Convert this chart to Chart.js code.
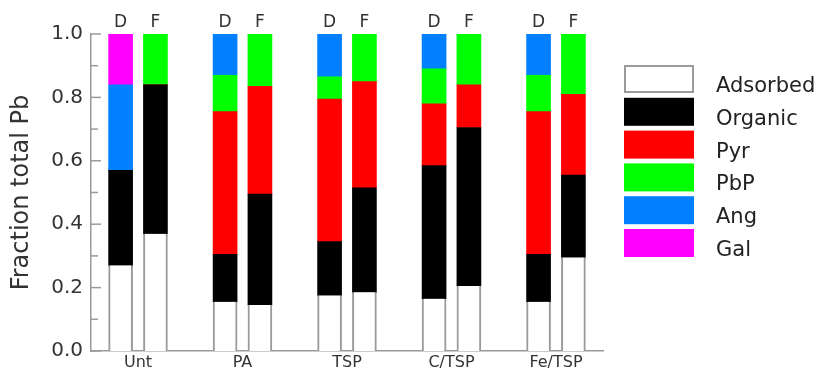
<!DOCTYPE html>
<html>
<head>
<meta charset="utf-8">
<script src="https://cdn.jsdelivr.net/npm/chart.js@4.4.0/dist/chart.umd.min.js"></script>
<style>
  html, body { margin: 0; padding: 0; background: #ffffff; }
  canvas { display: block; }
</style>
</head>
<body>
<canvas id="chart" width="820" height="373"></canvas>
<script>
// ---- data (fractions of total Pb), bar order: Unt D, Unt F, PA D, PA F, TSP D, TSP F, C/TSP D, C/TSP F, Fe/TSP D, Fe/TSP F
const groups = ['Unt', 'PA', 'TSP', 'C/TSP', 'Fe/TSP'];
const treatments = ['D', 'F'];
const seriesNames = ['Adsorbed', 'Organic', 'Pyr', 'PbP', 'Ang', 'Gal'];
const adsorbed = [0.27, 0.37, 0.155, 0.145, 0.175, 0.185, 0.165, 0.205, 0.155, 0.295];
const organic  = [0.30, 0.47, 0.15,  0.35,  0.17,  0.33,  0.42,  0.50,  0.15,  0.26];
const pyr      = [0,    0,    0.45,  0.34,  0.45,  0.335, 0.195, 0.135, 0.45,  0.255];
const pbp      = [0,    0.16, 0.115, 0.165, 0.07,  0.15,  0.11,  0.16,  0.115, 0.19];
const ang      = [0.27, 0,    0.13,  0,     0.135, 0,     0.11,  0,     0.13,  0];
const gal      = [0.16, 0,    0,     0,     0,     0,     0,     0,     0,     0];
const yTicks = [0, 0.2, 0.4, 0.6, 0.8, 1.0];

const seriesValues = [adsorbed, organic, pyr, pbp, ang, gal];
const seriesColors = ['#ffffff', '#000000', '#ff0000', '#00ff00', '#0080ff', '#ff00ff'];
const axisGrey = '#9a9a9a';
const FONT = 'DejaVu Sans';

// bar slot on the x axis: D at 3g+1, F at 3g+2
const barX = i => Math.floor(i / 2) * 3 + 1 + (i % 2);
const barSlots = adsorbed.map((_, i) => barX(i));
const groupCentres = groups.map((_, g) => g * 3 + 1.5);

const datasets = seriesNames.map((name, s) => ({
  label: name,
  data: seriesValues[s].map((v, i) => ({ x: barX(i), y: v })),
  backgroundColor: seriesColors[s],
  borderColor: s === 0 ? axisGrey : seriesColors[s],
  borderWidth: s === 0 ? { left: 2, right: 2, top: 0, bottom: 0 } : 0,
  borderSkipped: false,
  barThickness: 24,
  xAxisID: 'x',
  yAxisID: 'y'
}));

const tickMarks = {
  id: 'tickMarks',
  afterDraw(chart) {
    const ys = chart.scales.y;
    const left = chart.chartArea.left;
    const ctx = chart.ctx;
    ctx.save();
    ctx.strokeStyle = axisGrey;
    ctx.lineWidth = 1.5;
    yTicks.forEach((v, i) => {
      const py = ys.getPixelForValue(v);
      ctx.beginPath(); ctx.moveTo(left, py); ctx.lineTo(left + 10, py); ctx.stroke();
      if (i < yTicks.length - 1) {
        const pm = ys.getPixelForValue((v + yTicks[i + 1]) / 2);
        ctx.beginPath(); ctx.moveTo(left, pm); ctx.lineTo(left + 7, pm); ctx.stroke();
      }
    });
    ctx.restore();
  }
};

const sideLegend = {
  id: 'sideLegend',
  afterDraw(chart) {
    const ctx = chart.ctx;
    const x0 = chart.chartArea.right + 21;
    const y0 = chart.chartArea.top + 31;
    ctx.save();
    chart.data.datasets.forEach((ds, i) => {
      const top = y0 + i * 32.8;
      ctx.fillStyle = ds.backgroundColor;
      ctx.fillRect(x0, top, 70, 28);
      if (i === 0) {
        ctx.strokeStyle = ds.borderColor;
        ctx.lineWidth = 2;
        ctx.strokeRect(x0 + 1, top + 1, 68, 26);
      }
      ctx.fillStyle = '#222222';
      ctx.font = '21px "' + FONT + '"';
      ctx.textBaseline = 'alphabetic';
      ctx.textAlign = 'left';
      ctx.fillText(ds.label, x0 + 92, top + 27);
    });
    ctx.restore();
  }
};

new Chart(document.getElementById('chart'), {
  type: 'bar',
  data: { datasets },
  plugins: [tickMarks, sideLegend],
  options: {
    responsive: false,
    animation: false,
    layout: { padding: { left: 0, right: 217, top: 11, bottom: -2 } },
    plugins: { legend: { display: false }, tooltip: { enabled: false } },
    scales: {
      x: {
        type: 'linear', position: 'bottom', min: 0.15, max: 14.85, stacked: true, offset: false,
        afterBuildTicks: s => { s.ticks = groupCentres.map(v => ({ value: v })); },
        ticks: {
          autoSkip: false, maxRotation: 0, padding: 4, color: '#333333',
          font: { family: FONT, size: 16, lineHeight: 1 },
          callback: (v, i) => groups[i]
        },
        grid: { display: false, drawTicks: false, offset: false },
        border: { display: true, color: axisGrey, width: 1.5 }
      },
      x2: {
        type: 'linear', position: 'top', min: 0.15, max: 14.85, offset: false,
        afterBuildTicks: s => { s.ticks = barSlots.map(v => ({ value: v })); },
        ticks: {
          autoSkip: false, maxRotation: 0, padding: 3, color: '#333333',
          font: { family: FONT, size: 17, lineHeight: 1 },
          callback: (v, i) => treatments[i % 2]
        },
        grid: { display: false, drawTicks: false, offset: false },
        border: { display: false }
      },
      y: {
        min: 0, max: 1, stacked: true,
        afterBuildTicks: s => { s.ticks = yTicks.map(v => ({ value: v })); },
        ticks: {
          padding: 8, color: '#333333',
          font: { family: FONT, size: 20 },
          callback: v => v.toFixed(1)
        },
        grid: { display: false, drawTicks: false },
        border: { display: true, color: axisGrey, width: 1.5 },
        title: {
          display: true, text: 'Fraction total Pb', color: '#333333',
          font: { family: FONT, size: 24 },
          padding: { top: 7.6, bottom: 6.8 }
        }
      }
    }
  }
});
</script>
</body>
</html>
